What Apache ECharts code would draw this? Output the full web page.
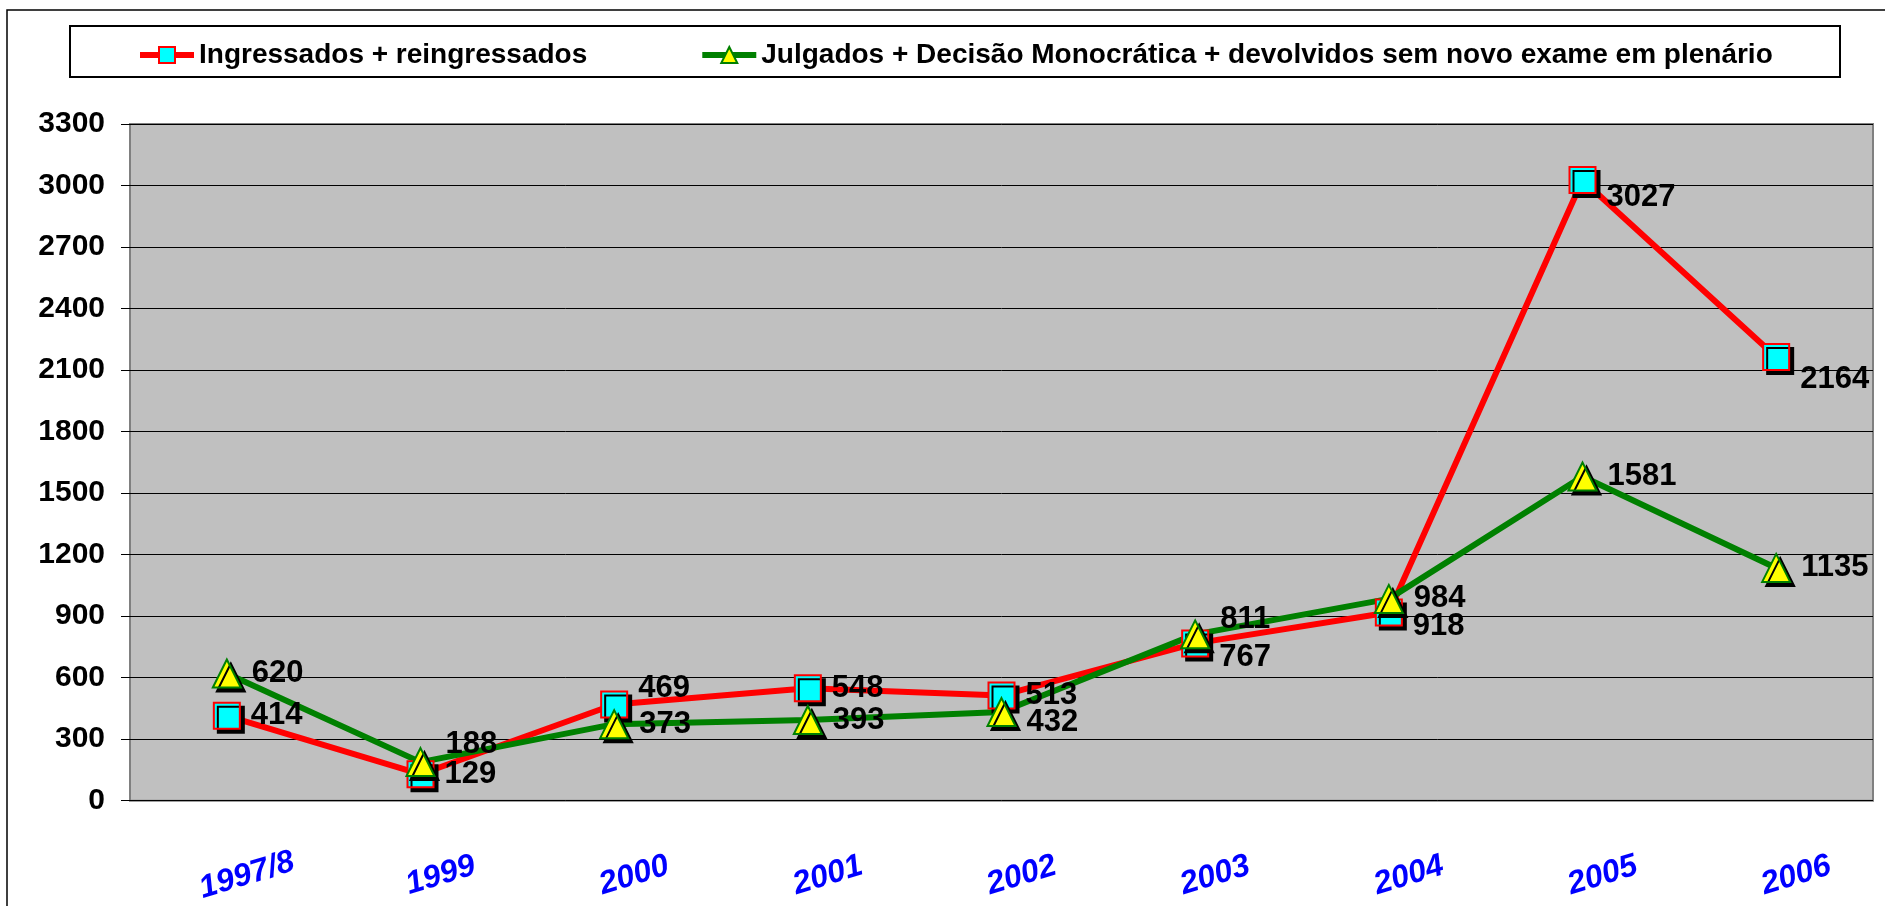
<!DOCTYPE html>
<html>
<head>
<meta charset="utf-8">
<title>Ingressados x Julgados</title>
<script src="https://cdn.jsdelivr.net/npm/echarts@6/dist/echarts.min.js"></script>
<style>
  html, body { margin: 0; padding: 0; background: #fff; }
  #chart { width: 1885px; height: 906px; }
</style>
</head>
<body>
<div id="chart"></div>
<script>
// dados
const anos = ['1997/8', '1999', '2000', '2001', '2002', '2003', '2004', '2005', '2006']
const ingressados = [414, 129, 469, 548, 513, 767, 918, 3027, 2164]
const julgados = [620, 188, 373, 393, 432, 811, 984, 1581, 1135]
const nomeIngressados = 'Ingressados + reingressados'
const nomeJulgados = 'Julgados + Decisão Monocrática + devolvidos sem novo exame em plenário'

// deslocamento vertical dos rótulos (como no original, para não sobrepor)
const ajusteIngressados = [0, 0, -16, 0, 0, 14, 14, 17, 23]
const ajusteJulgados = [0, -18, 0, 0, 10, -15, 0, 0, 0]

const fonte = '"Liberation Sans", Arial, sans-serif'

function pontos(valores, ajustes) {
  return valores.map((v, i) => ({
    value: v,
    label: { offset: [0, ajustes[i]] }
  }))
}

const chart = echarts.init(document.getElementById('chart'))
chart.setOption({
  animation: false,
  textStyle: { fontFamily: fonte },
  graphic: [
    {
      type: 'rect',
      silent: true,
      shape: { x: 7, y: 10, width: 1900, height: 1000 },
      style: { fill: null, stroke: '#000', lineWidth: 1.5 }
    },
    {
      type: 'rect',
      silent: true,
      shape: { x: 70, y: 26, width: 1770, height: 51 },
      style: { fill: '#fff', stroke: '#000', lineWidth: 2 }
    }
  ],
  legend: {
    left: 132,
    top: 36,
    itemWidth: 54,
    itemHeight: 20,
    itemGap: 112,
    lineStyle: { width: 6 },
    textStyle: { fontSize: 28, fontWeight: 'bold', color: '#000', fontFamily: fonte }
  },
  grid: {
    left: 130,
    right: 12,
    top: 124,
    bottom: 104,
    show: true,
    backgroundColor: '#C0C0C0',
    borderColor: '#808080',
    borderWidth: 2
  },
  xAxis: {
    type: 'category',
    data: anos,
    axisLine: { show: false },
    axisTick: { show: false },
    axisLabel: {
      rotate: 17,
      margin: 81,
      align: 'center',
      verticalAlign: 'middle',
      padding: [0, 0, 0, 42],
      color: '#0000FF',
      fontSize: 32,
      fontWeight: 'bold',
      fontStyle: 'italic',
      fontFamily: fonte
    }
  },
  yAxis: {
    type: 'value',
    min: 0,
    max: 3300,
    interval: 300,
    axisLine: { show: false },
    axisTick: { show: true, length: 9, lineStyle: { color: '#000', width: 1 } },
    axisLabel: {
      margin: 25,
      color: '#000',
      fontSize: 30,
      fontWeight: 'bold',
      fontFamily: fonte,
      formatter: v => String(v)
    },
    splitLine: { lineStyle: { color: '#000', width: 1 } }
  },
  series: [
    {
      name: nomeIngressados,
      type: 'line',
      data: pontos(ingressados, ajusteIngressados),
      symbol: 'rect',
      symbolSize: 26,
      lineStyle: { color: '#FF0000', width: 6 },
      itemStyle: {
        color: '#00FFFF',
        borderColor: '#FF0000',
        borderWidth: 2,
        shadowColor: '#000',
        shadowOffsetX: 4,
        shadowOffsetY: 4,
        shadowBlur: 0
      },
      label: {
        show: true,
        position: 'right',
        distance: 10,
        color: '#000',
        fontSize: 31,
        fontWeight: 'bold',
        fontFamily: fonte
      }
    },
    {
      name: nomeJulgados,
      type: 'line',
      data: pontos(julgados, ajusteJulgados),
      symbol: 'triangle',
      symbolSize: [28, 28],
      lineStyle: { color: '#008000', width: 6 },
      itemStyle: {
        color: '#FFFF00',
        borderColor: '#008000',
        borderWidth: 2,
        shadowColor: '#000',
        shadowOffsetX: 4,
        shadowOffsetY: 4,
        shadowBlur: 0
      },
      label: {
        show: true,
        position: 'right',
        distance: 10,
        color: '#000',
        fontSize: 31,
        fontWeight: 'bold',
        fontFamily: fonte
      }
    }
  ]
})
</script>
</body>
</html>
